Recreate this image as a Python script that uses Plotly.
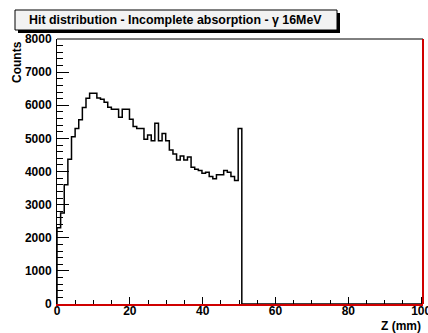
import numpy as np
import plotly.graph_objects as go

# ---- data ----
x_min, x_max, n_bins = 0.0, 100.5, 101
counts_nonzero = [2300, 2750, 3600, 4370, 5050, 5300, 5560, 5930, 6210, 6360,
                  6360, 6220, 6180, 6090, 5940, 5880, 5880, 5640, 5880, 5880,
                  5580, 5360, 5300, 5300, 4970, 5100, 4930, 5460, 4930, 5150,
                  4930, 4650, 4530, 4350, 4470, 4350, 4440, 4130, 4070, 4030,
                  3950, 3980, 3850, 3780, 3900, 3900, 4030, 3980, 3850, 3730,
                  5300]
counts = counts_nonzero + [0] * (n_bins - len(counts_nonzero))
x_ticks = [0, 20, 40, 60, 80, 100]
y_ticks = [0, 1000, 2000, 3000, 4000, 5000, 6000, 7000, 8000]
title_text = "Hit distribution - Incomplete absorption - \u03b3 16MeV"
x_title = "Z (mm)"
y_title = "Counts"

# ---- geometry ----
W, H = 428, 333
L, R, T, B = 57, 5, 39, 29
pw, ph = W - L - R, H - T - B

def px(xp):
    return (xp - L) / pw

def py(yp):
    return (H - B - yp) / ph

edges = x_min + np.arange(n_bins + 1) * (x_max - x_min) / n_bins
xs = [edges[0]] + list(edges[:-1]) + [edges[-1]]
ys = [0] + list(counts) + [0]

FONT = "Liberation Sans"

fig = go.Figure()
fig.add_trace(go.Scatter(x=xs, y=ys, mode="lines", line_shape="hv",
                         line=dict(color="black", width=1.5),
                         hoverinfo="skip", showlegend=False))

fig.update_layout(
    width=W, height=H,
    margin=dict(l=L, r=R, t=T, b=B, pad=0),
    paper_bgcolor="white", plot_bgcolor="white",
    showlegend=False,
    font=dict(family=FONT, size=12, color="black"),
    xaxis=dict(range=[x_min, x_max], tickvals=x_ticks, showgrid=False, zeroline=False,
               showline=True, linecolor="#d00000", linewidth=2,
               ticks="inside", ticklen=7, tickwidth=1, tickcolor="black",
               minor=dict(ticks="inside", ticklen=4, tickwidth=1, tickcolor="black", dtick=5, showgrid=False),
               tickfont=dict(family=FONT, size=12, color="black", weight="bold"),
               ticklabeloverflow="allow", automargin=False, ticklabelstandoff=-5),
    yaxis=dict(range=[0, 8000], tickvals=y_ticks, showgrid=False, zeroline=False,
               showline=True, linecolor="black", linewidth=1,
               ticks="inside", ticklen=12, tickwidth=1, tickcolor="black",
               minor=dict(ticks="inside", ticklen=6, tickwidth=1, tickcolor="black", dtick=200, showgrid=False),
               tickfont=dict(family=FONT, size=12, color="black", weight="bold"),
               ticklabelstandoff=2, automargin=False),
)

shapes = [
    # top and right frame edges
    dict(type="line", xref="paper", yref="paper", x0=0, x1=1, y0=1, y1=1,
         line=dict(color="black", width=1)),
    dict(type="line", xref="paper", yref="paper", x0=1, x1=1, y0=0, y1=1,
         line=dict(color="#d00000", width=2)),
    # title box shadow and box
    dict(type="rect", xref="paper", yref="paper", x0=px(18), x1=px(340), y0=py(33), y1=py(13),
         line=dict(width=0), fillcolor="black", layer="above"),
    dict(type="rect", xref="paper", yref="paper", x0=px(15), x1=px(337), y0=py(30), y1=py(10),
         line=dict(color="black", width=1), fillcolor="#f2f2f2", layer="above"),
]
fig.update_layout(shapes=shapes)

fig.add_annotation(text="<b>" + title_text + "</b>", xref="paper", yref="paper",
                   x=px(175.5), y=py(20), xanchor="center", yanchor="middle",
                   showarrow=False, font=dict(family=FONT, size=12.4, color="black"))
fig.add_annotation(text="<b>" + y_title + "</b>", xref="paper", yref="paper",
                   x=px(17), y=1, xanchor="center", yanchor="top", textangle=-90,
                   showarrow=False, font=dict(family=FONT, size=12, color="black"))
fig.add_annotation(text="<b>" + x_title + "</b>", xref="paper", yref="paper",
                   x=1, y=py(326), xanchor="right", yanchor="middle",
                   showarrow=False, font=dict(family=FONT, size=12, color="black"))

fig.write_html("out.html")
